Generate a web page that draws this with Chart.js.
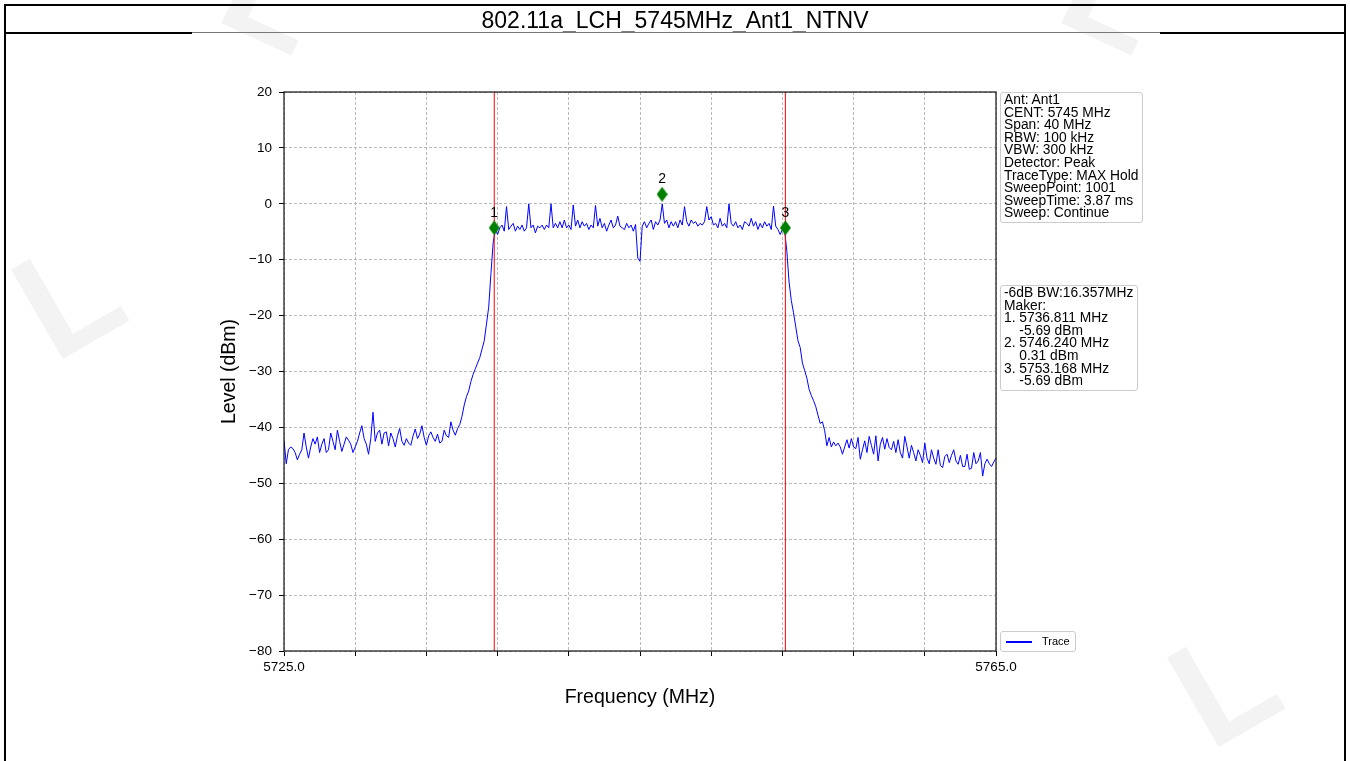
<!DOCTYPE html>
<html>
<head>
<meta charset="utf-8">
<title>802.11a_LCH_5745MHz_Ant1_NTNV</title>
<script src="https://cdn.jsdelivr.net/npm/chart.js@4.4.1/dist/chart.umd.min.js"></script>
<style>
  html, body { margin: 0; padding: 0; background: #fff; }
  body { width: 1350px; height: 761px; position: relative; overflow: hidden;
         font-family: Arial, "Liberation Sans", sans-serif; color: #000; }
  .wm { position: absolute; font: bold 150px Arial, "Liberation Sans", sans-serif; color: #f3f3f3; }
  #frame { position: absolute; left: 4px; top: 4px; width: 1338px; height: 800px; border: 2px solid #000; }
  #title { position: absolute; left: 6px; top: 6px; width: 1338px; height: 27px; line-height: 28px;
           text-align: center; font-size: 23px; }
  #rule { position: absolute; left: 6px; top: 32px; width: 1338px; height: 1px; background: #777; }
  .ruleEnd { position: absolute; top: 32px; height: 2px; background: #000; }
  #wrap { position: absolute; left: 0; top: 0; width: 1350px; height: 761px; }
  .box { position: absolute; border: 1px solid #ccc; border-radius: 3px; background: #fff;
         font-size: 13.8px; line-height: 12.6px; white-space: pre; padding: 1px 3px; box-sizing: border-box; }
  #legend { position: absolute; left: 1000px; top: 631px; width: 76px; height: 21px; border: 1px solid #ccc;
            border-radius: 3px; background: #fff; font-size: 11px; box-sizing: border-box; }
  #legend .swatch { position: absolute; left: 5px; top: 9px; width: 26px; height: 1.5px; background: #0000ff; }
  #legend .lbl { position: absolute; left: 41px; top: 3px; }
</style>
</head>
<body>
<div class="wm" style="left:230px; top:-95px; transform: rotate(25deg);">L</div>
<div class="wm" style="left:1070px; top:-95px; transform: rotate(25deg);">L</div>
<div class="wm" style="left:22px; top:210px; transform: rotate(-30deg);">L</div>
<div class="wm" style="left:1178px; top:598px; transform: rotate(-30deg);">L</div>

<div id="wrap"><canvas id="spectrum" width="1350" height="761"></canvas></div>
<div id="frame"></div>
<div id="title">802.11a_LCH_5745MHz_Ant1_NTNV</div>
<div id="rule"></div>
<div class="ruleEnd" style="left:6px; width:186px;"></div>
<div class="ruleEnd" style="left:1160px; width:184px;"></div>

<div class="box" id="setupBox" style="left:1000px; top:92px; width:143px; height:131px;"></div>
<div class="box" id="markerBox" style="left:1000px; top:285px; width:138px; height:106px;"></div>
<div id="legend"><div class="swatch"></div><div class="lbl">Trace</div></div>

<script>
// sweep: 5725 MHz upwards in 0.125 MHz steps, one row per MHz
const START_MHZ = 5725.0;
const STEP_MHZ = 0.125;
const TRACE_DBM = [
  -42.3, -46.5, -44.0, -43.5, -43.8, -44.5, -45.8, -44.8,
  -44.0, -41.0, -43.5, -45.5, -43.5, -42.0, -43.0, -41.7,
  -44.5, -43.0, -42.0, -44.5, -44.0, -41.0, -42.5, -44.0,
  -40.5, -42.5, -44.3, -43.0, -41.7, -42.3, -43.0, -44.5,
  -43.5, -42.5, -41.0, -39.7, -42.0, -43.0, -44.8, -42.0,
  -37.3, -42.5, -41.0, -40.5, -43.0, -41.0, -40.8, -43.3,
  -41.0, -42.0, -43.5, -41.5, -40.2, -42.5, -43.2, -42.0,
  -42.8, -43.2, -41.5, -40.3, -42.0, -41.2, -39.7, -41.8,
  -43.2, -41.5, -40.8, -41.8, -42.5, -41.2, -42.8, -42.5,
  -40.5, -41.5, -41.8, -39.0, -40.5, -41.4, -40.2, -39.5,
  -38.0, -36.0, -34.5, -33.5, -31.8, -30.5, -29.5, -28.5,
  -27.5, -26.0, -24.5, -21.5, -18.5, -12.5, -7.0, -4.5,
  -5.5, -4.3, -3.8, -4.9, -0.5, -4.6, -4.0, -3.5,
  -4.9, -4.0, -4.6, -3.8, -4.9, -4.3, 0.0, -4.3,
  -3.8, -5.2, -4.0, -4.3, -3.8, -4.6, -3.8, -4.3,
  0.0, -4.3, -3.5, -4.3, -3.2, -4.3, -2.9, -4.3,
  -3.8, -4.6, -0.2, -4.0, -2.9, -4.3, -3.2, -4.0,
  -3.5, -4.6, -3.8, -4.3, -0.3, -4.0, -2.6, -4.3,
  -3.5, -4.9, -3.8, -2.9, -4.3, -3.8, -2.2, -4.0,
  -4.3, -4.6, -3.5, -4.3, -3.8, -4.9, -3.7, -9.7,
  -10.3, -4.0, -3.2, -4.3, -3.5, -2.9, -4.6, -3.2,
  -3.8, -2.9, 0.0, -3.5, -2.9, -4.3, -3.2, -4.0,
  -3.2, -4.3, -2.9, -3.8, -0.5, -3.2, -4.0, -2.9,
  -3.5, -3.2, -4.0, -3.5, -3.8, -3.2, -0.5, -2.9,
  -2.3, -3.8, -3.5, -4.3, -2.6, -4.0, -3.5, -4.3,
  0.0, -3.5, -4.0, -3.2, -4.3, -3.8, -4.6, -3.2,
  -3.5, -4.0, -2.6, -4.0, -3.2, -4.6, -3.5, -4.3,
  -3.2, -4.0, -3.5, -4.6, -0.4, -4.0, -4.6, -5.5,
  -4.6, -4.8, -8.5, -14.0, -17.3, -19.5, -22.0, -24.5,
  -25.7, -28.5, -29.8, -31.2, -33.2, -34.3, -35.2, -36.3,
  -37.8, -39.3, -39.0, -40.6, -43.3, -41.8, -43.5, -42.6,
  -43.3, -42.8, -43.5, -44.8, -43.5, -42.2, -43.7, -42.0,
  -43.5, -43.8, -41.8, -45.7, -44.0, -42.4, -44.5, -41.6,
  -43.2, -44.8, -41.5, -46.0, -43.0, -41.8, -43.9, -42.0,
  -43.6, -44.0, -42.5, -44.5, -42.2, -44.5, -45.5, -41.6,
  -43.5, -45.5, -43.2, -44.5, -46.0, -44.0, -45.0, -46.3,
  -42.8, -45.5, -46.5, -44.0, -45.5, -46.6, -44.0, -46.8,
  -47.2, -45.2, -44.8, -46.3, -45.0, -44.0, -46.0, -46.6,
  -45.0, -47.0, -47.0, -44.8, -47.5, -47.3, -44.5, -46.5,
  -46.0, -44.5, -48.7, -46.5, -45.7, -46.5, -47.0, -46.2,
  -45.5
];

const X_TICK_MHZ = [5725, 5729, 5733, 5737, 5741, 5745, 5749, 5753, 5757, 5761, 5765];
const X_TICK_LABELS = ['5725.0', '', '', '', '', '', '', '', '', '', '5765.0'];
const Y_TICKS = [20, 10, 0, -10, -20, -30, -40, -50, -60, -70, -80];

const MARKER_NAMES = ['1', '2', '3'];
const MARKER_MHZ = [5736.811, 5746.240, 5753.168];
const MARKER_DBM = [-4.3, 1.7, -4.3];   // where the diamonds sit in the plot
const BW_EDGES_MHZ = [5736.811, 5753.168];

const SETUP_LINES = ['Ant: Ant1', 'CENT: 5745 MHz', 'Span: 40 MHz', 'RBW: 100 kHz', 'VBW: 300 kHz',
  'Detector: Peak', 'TraceType: MAX Hold', 'SweepPoint: 1001', 'SweepTime: 3.87 ms', 'Sweep: Continue'];
const MARKER_LINES = ['-6dB BW:16.357MHz', 'Maker:', '1. 5736.811 MHz', '    -5.69 dBm',
  '2. 5746.240 MHz', '    0.31 dBm', '3. 5753.168 MHz', '    -5.69 dBm'];

document.getElementById('setupBox').textContent = SETUP_LINES.join('\n');
document.getElementById('markerBox').textContent = MARKER_LINES.join('\n');

const tracePoints = TRACE_DBM.map((v, i) => ({ x: START_MHZ + i * STEP_MHZ, y: v }));
const markerPoints = MARKER_MHZ.map((f, i) => ({ x: f, y: MARKER_DBM[i] }));

// thin green diamond like matplotlib's 'd'
function thinDiamond(w, h, color) {
  const c = document.createElement('canvas');
  c.width = w; c.height = h;
  const g = c.getContext('2d');
  g.beginPath();
  g.moveTo(w / 2, 0); g.lineTo(w, h / 2); g.lineTo(w / 2, h); g.lineTo(0, h / 2);
  g.closePath();
  g.fillStyle = color;
  g.fill();
  return c;
}
const diamond = thinDiamond(11, 15, '#008000');

const bwDatasets = BW_EDGES_MHZ.map(f => ({
  label: 'bw',
  data: [{ x: f, y: -80 }, { x: f, y: 20 }],
  showLine: true,
  borderColor: '#ff0000',
  borderWidth: 1,
  pointRadius: 0
}));

const chartFrame = {
  id: 'chartFrame',
  afterDatasetsDraw(chart) {
    const { ctx, chartArea: a, scales } = chart;
    ctx.save();
    // marker numbers
    ctx.fillStyle = '#000';
    ctx.font = '14px Arial, "Liberation Sans", sans-serif';
    ctx.textAlign = 'center';
    ctx.textBaseline = 'middle';
    MARKER_NAMES.forEach((name, i) => {
      const px = scales.x.getPixelForValue(MARKER_MHZ[i]);
      const py = scales.y.getPixelForValue(MARKER_DBM[i]);
      ctx.fillText(name, px, py - 15);
    });
    // axes box
    ctx.strokeStyle = '#111';
    ctx.lineWidth = 1.2;
    ctx.strokeRect(a.left, a.top, a.right - a.left, a.bottom - a.top);
    ctx.restore();
  }
};

const tickFont = { family: 'Arial, "Liberation Sans", sans-serif', size: 13.5 };
const titleFont = { family: 'Arial, "Liberation Sans", sans-serif', size: 19.5 };

const gridOpts = {
  color: '#a8a8a8',
  lineWidth: 0.8,
  tickLength: 5,
  tickColor: '#000',
  tickWidth: 1,
  tickBorderDash: []
};

new Chart(document.getElementById('spectrum'), {
  type: 'scatter',
  data: {
    datasets: [
      {
        label: 'markers',
        data: markerPoints,
        pointStyle: diamond,
        pointRadius: 6,
        showLine: false
      },
      ...bwDatasets,
      {
        label: 'Trace',
        data: tracePoints,
        showLine: true,
        borderColor: '#0000ff',
        borderWidth: 1,
        pointRadius: 0,
        tension: 0
      }
    ]
  },
  options: {
    responsive: false,
    animation: false,
    devicePixelRatio: 1,
    layout: { padding: { left: 200, right: 354, top: 92, bottom: 52 } },
    plugins: {
      legend: { display: false },
      tooltip: { enabled: false }
    },
    scales: {
      x: {
        type: 'linear',
        min: 5725,
        max: 5765,
        afterBuildTicks: scale => { scale.ticks = X_TICK_MHZ.map(v => ({ value: v })); },
        afterFit: scale => { scale.height = 58; },
        ticks: {
          autoSkip: false,
          maxRotation: 0,
          padding: 3,
          color: '#000',
          font: tickFont,
          callback: (v, i) => X_TICK_LABELS[i]
        },
        grid: gridOpts,
        border: { display: false, dash: [3, 2] },
        title: { display: true, text: 'Frequency (MHz)', color: '#000', font: titleFont, padding: { top: 0, bottom: 0 } }
      },
      y: {
        min: -80,
        max: 20,
        afterBuildTicks: scale => { scale.ticks = Y_TICKS.map(v => ({ value: v })); },
        afterFit: scale => { scale.width = 84; },
        ticks: {
          padding: 7,
          color: '#000',
          font: tickFont,
          callback: v => (v < 0 ? '\u2212' + Math.abs(v) : String(v))
        },
        grid: gridOpts,
        border: { display: false, dash: [3, 2] },
        title: { display: true, text: 'Level (dBm)', color: '#000', font: titleFont, padding: { top: 18, bottom: 0 } }
      }
    }
  },
  plugins: [chartFrame]
});
</script>
</body>
</html>
